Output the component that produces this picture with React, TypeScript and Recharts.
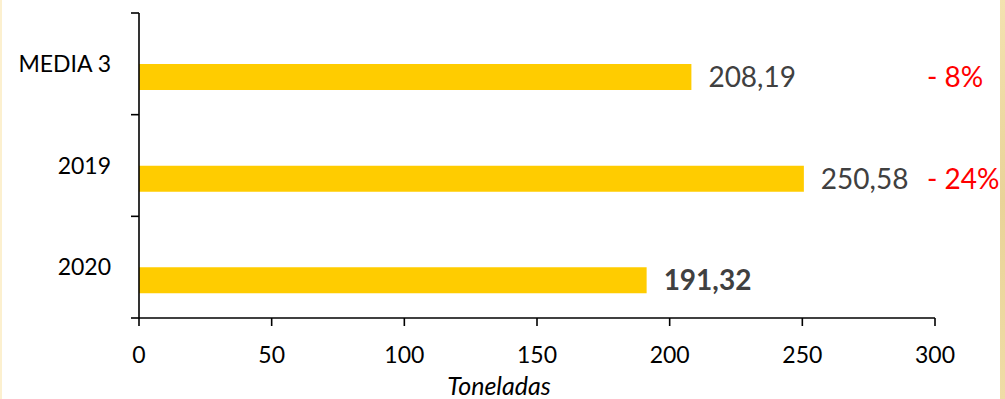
import React from 'react';
import { BarChart, Bar, XAxis, YAxis, LabelList, Label } from 'recharts';

// ---------------------------------------------------------------------------
// Data
// ---------------------------------------------------------------------------

const categories = ['MEDIA 3', '2019', '2020'];
const toneladas = [208.19, 250.58, 191.32];
const variations = ['- 8%', '- 24%', ''];
const xTicks = [0, 50, 100, 150, 200, 250, 300];
// where the variation labels start, in data units
const variationAt = 297;

const FONT = 'Lato, "Open Sans", sans-serif';
const BAR_COLOR = '#FFCC00';
const LABEL_COLOR = '#404040';
const CAT_MARGIN = 28;
const TICK_LEN = 8;
const AXIS_W = 1.6;

const data = categories.map((name, i) => ({
  name,
  spacer: 0,
  value: toneladas[i],
  pct: variations[i],
  current: i === categories.length - 1,
}));

function formatValue(v: number): string {
  return v.toFixed(2).replace('.', ',');
}

// category label, with tick marks on the band edges (Excel style)
function CategoryTick(props: any) {
  const { x, y, payload, index, visibleTicksCount } = props;
  const half = payload.offset || 0;
  const axisX = x + CAT_MARGIN;
  const isLast = index === visibleTicksCount - 1;
  return (
    <g>
      <text x={x} y={y} dy="0.36em" textAnchor="end" fill="#000" fontSize={23} fontFamily={FONT}>
        {payload.value}
      </text>
      <line x1={axisX - TICK_LEN} x2={axisX} y1={y - half} y2={y - half} stroke="#000" strokeWidth={AXIS_W} />
      {isLast && (
        <line x1={axisX - TICK_LEN} x2={axisX} y1={y + half} y2={y + half} stroke="#000" strokeWidth={AXIS_W} />
      )}
    </g>
  );
}

// value label + variation label for each bar
function BarLabels(props: any) {
  const { x, y, width, height, index } = props;
  const row = data[index];
  if (!row) return null;
  const cy = y + height / 2;
  const perUnit = width / row.value;
  return (
    <g>
      <text
        x={x + width + 17}
        y={cy}
        dy="0.36em"
        fill={LABEL_COLOR}
        fontSize={28}
        fontWeight={row.current ? 700 : 400}
        fontFamily={FONT}
      >
        {formatValue(row.value)}
      </text>
      {row.pct && (
        <text
          x={x + variationAt * perUnit}
          y={cy}
          dy="0.36em"
          fill="#FF0000"
          fontSize={28}
          fontFamily={FONT}
        >
          {row.pct}
        </text>
      )}
    </g>
  );
}

export default function App() {
  return (
    <div style={{ position: 'absolute', left: 0, top: 0, width: 1005, height: 399, background: '#fff' }}>
      <BarChart
        width={1005}
        height={399}
        data={data}
        layout="vertical"
        margin={{ top: 13, right: 70, bottom: 0, left: 0 }}
        barSize={26}
        barGap={0}
      >
        <XAxis
          type="number"
          domain={[0, 300]}
          ticks={xTicks}
          height={81}
          stroke="#000"
          strokeWidth={AXIS_W}
          tickSize={TICK_LEN}
          tickMargin={21}
          tick={{ fill: '#000', fontSize: 23, fontFamily: FONT }}
        >
          <Label
            value="Toneladas"
            position="insideBottom"
            offset={4}
            dx={-38}
            fill="#000"
            fontSize={25}
            fontStyle="italic"
            fontFamily={FONT}
          />
        </XAxis>
        <YAxis
          type="category"
          dataKey="name"
          width={139}
          stroke="#000"
          strokeWidth={AXIS_W}
          tickLine={false}
          tickSize={0}
          tickMargin={CAT_MARGIN}
          tick={<CategoryTick />}
        />
        <Bar dataKey="spacer" fill="transparent" isAnimationActive={false} />
        <Bar dataKey="value" fill={BAR_COLOR} isAnimationActive={false}>
          <LabelList dataKey="value" content={BarLabels} />
        </Bar>
      </BarChart>
      <div style={{ position: 'absolute', left: 0, top: 0, width: 2, height: 399, background: '#FCF0CF' }} />
      <div
        style={{
          position: 'absolute',
          left: 1000,
          top: 0,
          width: 5,
          height: 399,
          background: 'linear-gradient(180deg, #F3E2B0 0%, #E9D398 50%, #EFDCA6 100%)',
        }}
      />
    </div>
  );
}
